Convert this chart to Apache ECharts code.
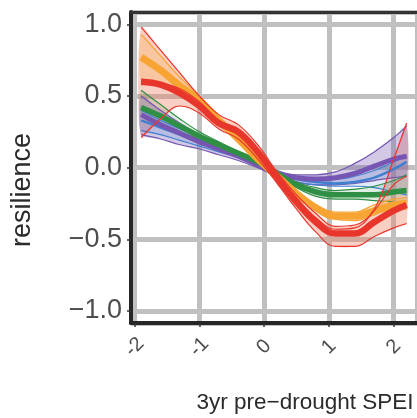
<!DOCTYPE html>
<html>
<head>
<meta charset="utf-8">
<script src="https://cdn.jsdelivr.net/npm/echarts@6/dist/echarts.min.js"></script>
<style>html,body{margin:0;padding:0;background:#fff;}#c{width:417px;height:418px;}</style>
</head>
<body>
<div id="c"></div>
<script>
// ---- data ----
const xs = [-1.9,-1.6,-1.3,-1.0,-0.7,-0.4,-0.1,0.2,0.5,0.8,1.1,1.4,1.7,2.0,2.2];

const redMain = [0.60,0.58,0.52,0.43,0.31,0.25,0.11,-0.07,-0.24,-0.38,-0.46,-0.46,-0.38,-0.30,-0.26];
const redLo   = [0.21,0.34,0.43,0.38,0.27,0.20,0.06,-0.11,-0.29,-0.45,-0.55,-0.55,-0.48,-0.42,-0.39];
const redHi   = [0.98,0.82,0.66,0.50,0.37,0.30,0.16,-0.03,-0.19,-0.32,-0.41,-0.40,-0.29,0.06,0.31];
const redAlt  = [0.60,0.59,0.55,0.46,0.33,0.27,0.13,-0.05,-0.21,-0.35,-0.43,-0.42,-0.30,-0.12,-0.06];

const orangeMain = [0.77,0.68,0.57,0.47,0.33,0.20,0.06,-0.06,-0.18,-0.28,-0.34,-0.34,-0.30,-0.26,-0.25];
const orangeHi   = [0.93,0.78,0.63,0.50,0.36,0.22,0.08,-0.04,-0.16,-0.26,-0.31,-0.31,-0.26,-0.22,-0.21];
const orangeLo   = [0.62,0.58,0.51,0.43,0.31,0.18,0.05,-0.07,-0.20,-0.30,-0.36,-0.37,-0.33,-0.29,-0.29];

const greenMain = [0.42,0.36,0.29,0.22,0.16,0.10,0.04,-0.04,-0.12,-0.17,-0.19,-0.19,-0.19,-0.17,-0.16];
const greenLo   = [0.36,0.31,0.25,0.20,0.15,0.09,0.03,-0.05,-0.14,-0.20,-0.22,-0.22,-0.23,-0.24,-0.26];
const greenHi   = [0.54,0.44,0.34,0.25,0.18,0.11,0.05,-0.03,-0.10,-0.14,-0.16,-0.15,-0.13,-0.09,-0.05];

const blueMain = [0.33,0.28,0.23,0.18,0.13,0.08,0.02,-0.04,-0.08,-0.10,-0.11,-0.10,-0.07,-0.01,0.04];
const blueLo   = [0.26,0.23,0.19,0.15,0.11,0.07,0.01,-0.05,-0.10,-0.12,-0.13,-0.13,-0.14,-0.17,-0.19];
const blueHi   = [0.40,0.33,0.27,0.21,0.15,0.10,0.03,-0.03,-0.06,-0.08,-0.08,-0.06,-0.02,0.04,0.08];

const purpleMain = [0.37,0.30,0.24,0.18,0.13,0.08,0.02,-0.04,-0.07,-0.08,-0.07,-0.04,0.01,0.06,0.08];
const purpleLo   = [0.23,0.20,0.16,0.13,0.09,0.05,0.00,-0.06,-0.10,-0.12,-0.12,-0.11,-0.09,-0.07,-0.06];
const purpleHi   = [0.50,0.40,0.31,0.23,0.16,0.10,0.04,-0.02,-0.05,-0.05,-0.03,0.03,0.11,0.21,0.29];

const yTicks = ['1.0','0.5','0.0','\u22120.5','\u22121.0'];
const xTicks = ['-2','-1','0','1','2'];
const xTitle = '3yr pre\u2212drought SPEI';
const yTitle = 'resilience';

// ---- styles ----
const COL = {
  red: '#e8362c', orange: '#f7a433', green: '#2f8f45', blue: '#3f80d0', purple: '#7656b2'
};
const FILL = {
  red: 'rgba(240,130,100,0.38)', orange: 'rgba(250,170,60,0.25)', green: 'rgba(60,140,80,0.16)',
  blue: 'rgba(63,127,208,0.16)', purple: 'rgba(118,86,178,0.32)'
};

function pts(arr){ return xs.map((x,i)=>[x,arr[i]]); }
function band(name, lo, hi){
  return {
    type:'custom', silent:true, clip:true, data:[[0,0]],
    renderItem:function(params, api){
      const p = [];
      for (let i=0;i<xs.length;i++) p.push(api.coord([xs[i], hi[i]]));
      for (let i=xs.length-1;i>=0;i--) p.push(api.coord([xs[i], lo[i]]));
      return {type:'polygon', shape:{points:p, smooth:0.25}, style:{fill:FILL[name]}};
    }
  };
}
function line(arr, color, w){
  return {type:'line', data:pts(arr), smooth:0.4, symbol:'none', lineStyle:{color:color, width:w}, silent:true};
}

const series = [
  band('red', redLo, redHi),
  band('purple', purpleLo, purpleHi),
  band('green', greenLo, greenHi),
  band('blue', blueLo, blueHi),
  band('orange', orangeLo, orangeHi),
  line(purpleLo, COL.purple, 1.2), line(purpleHi, COL.purple, 1.2),
  line(blueLo, COL.blue, 1.2), line(blueHi, COL.blue, 1.2),
  line(greenLo, COL.green, 1.2), line(greenHi, COL.green, 1.2),
  line(blueMain, COL.blue, 2.5),
  line(purpleMain, COL.purple, 5),
  line(greenMain, COL.green, 5.5),
  line(orangeLo, COL.orange, 1.2), line(orangeHi, COL.orange, 1.2),
  line(orangeMain, COL.orange, 7),
  line(redLo, COL.red, 1.2), line(redHi, COL.red, 1.2), line(redAlt, COL.red, 1.2),
  line(redMain, COL.red, 6.5)
];

const chart = echarts.init(document.getElementById('c'), null, {renderer:'canvas'});
const yMap = {'1':yTicks[0],'0.5':yTicks[1],'0':yTicks[2],'-0.5':yTicks[3],'-1':yTicks[4]};
const xMap = {'-2':xTicks[0],'-1':xTicks[1],'0':xTicks[2],'1':xTicks[3],'2':xTicks[4]};
chart.setOption({
  animation:false,
  backgroundColor:'#fff',
  grid:{left:131, right:-3, top:12, bottom:95, containLabel:false},
  xAxis:[{
    type:'value', min:-2.056, max:2.36,
    axisLine:{show:true, onZero:false, lineStyle:{color:'#262626', width:4}},
    axisTick:{show:true, length:4, lineStyle:{color:'#333', width:1.5}},
    axisLabel:{showMinLabel:false, showMaxLabel:false, rotate:45, align:'center', verticalAlign:'middle',
      margin:24, fontSize:20, color:'#4d4d4d', fontFamily:'Liberation Sans',
      formatter:v=>xMap[String(v)] || ''},
    splitLine:{show:true, lineStyle:{color:'#c0c0c0', width:5}}
  },{
    type:'value', position:'top', min:-2.056, max:2.36,
    axisLine:{show:true, onZero:false, lineStyle:{color:'#333', width:3}},
    axisTick:{show:false}, axisLabel:{show:false}, splitLine:{show:false}
  }],
  yAxis:{
    type:'value', min:-1.084, max:1.086,
    axisLine:{show:true, onZero:false, lineStyle:{color:'#262626', width:4}},
    axisTick:{show:true, length:4, lineStyle:{color:'#333', width:1.5}},
    axisLabel:{showMinLabel:false, showMaxLabel:false, margin:9, fontSize:27, color:'#4d4d4d',
      fontFamily:'Liberation Sans', formatter:v=>yMap[String(v)] || ''},
    splitLine:{show:true, lineStyle:{color:'#c0c0c0', width:5}}
  },
  series: series,
  graphic:[
    {type:'text', x:305, y:403, style:{text:xTitle, x:0, y:0, align:'center', verticalAlign:'middle',
      font:'22.5px "Liberation Sans"', fill:'#2b2b2b'}},
    {type:'text', x:23, y:190, rotation:Math.PI/2, style:{text:yTitle, x:0, y:0, align:'center', verticalAlign:'middle',
      font:'27px "Liberation Sans"', fill:'#2b2b2b'}}
  ]
});
</script>
</body>
</html>
